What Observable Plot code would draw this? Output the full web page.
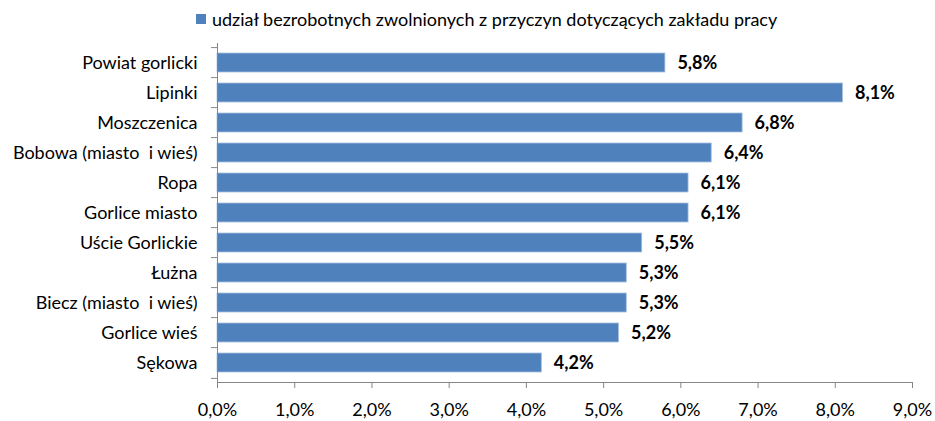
<!DOCTYPE html>
<html>
<head>
<meta charset="utf-8">
<script src="https://cdn.jsdelivr.net/npm/d3@7"></script>
<script src="https://cdn.jsdelivr.net/npm/@observablehq/plot@0.6"></script>
<style>
  html, body { margin: 0; padding: 0; background: #fff; }
  body { width: 935px; height: 421px; overflow: hidden; font-family: Lato, "Open Sans", sans-serif; }
  #legend { height: 30px; display: flex; align-items: center; padding-left: 196px; font-size: 18px; color: #000; box-sizing: border-box; padding-top: 8px; line-height: 1; }
  #legend .sw { width: 10px; height: 10px; background: #4F81BD; margin-right: 6px; flex: none; }
  #chart svg { display: block; }
</style>
</head>
<body>
<div id="legend"><div class="sw"></div><span class="t">udział bezrobotnych zwolnionych z przyczyn dotyczących zakładu pracy</span></div>
<div id="chart"></div>
<script>
const categories = ["Powiat gorlicki", "Lipinki", "Moszczenica", "Bobowa (miasto  i wieś)", "Ropa", "Gorlice miasto", "Uście Gorlickie", "Łużna", "Biecz (miasto  i wieś)", "Gorlice wieś", "Sękowa"];
const values = [5.8, 8.1, 6.8, 6.4, 6.1, 6.1, 5.5, 5.3, 5.3, 5.2, 4.2];
const xTicks = [0, 1, 2, 3, 4, 5, 6, 7, 8, 9];
const seriesName = "udział bezrobotnych zwolnionych z przyczyn dotyczących zakładu pracy";

const data = categories.map((c, i) => ({category: c, value: values[i]}));
const fmt = v => v.toFixed(1).replace(".", ",") + "%";
const axisColor = "#868686";
const halfStep = 15.4;

const chart = Plot.plot({
  width: 935,
  height: 391,
  marginTop: 13,
  marginBottom: 39,
  marginLeft: 217,
  marginRight: 23,
  style: {fontFamily: "Lato, 'Open Sans', sans-serif", fontSize: "18px", color: "#000", background: "#fff", overflow: "visible"},
  x: {domain: [0, 9], ticks: xTicks, tickFormat: fmt},
  y: {domain: categories, paddingInner: 0.36, paddingOuter: 0.18},
  marks: [
    Plot.barX(data, {x: "value", y: "category", fill: "#4F81BD", stroke: "#A7C0DE", strokeWidth: 0.8}),
    Plot.text(data, {x: "value", y: "category", text: d => fmt(d.value), textAnchor: "start", dx: 12, fontWeight: "bold", fontSize: 18}),
    Plot.ruleX([0], {stroke: axisColor}),
    Plot.axisY({tickSize: 0, tickPadding: 20, fontSize: 18, label: null}),
    Plot.axisY({tickSize: 6, tickFormat: () => "", dy: -halfStep, stroke: axisColor, label: null}),
    Plot.axisY({ticks: [categories[categories.length - 1]], tickSize: 6, tickFormat: () => "", dy: halfStep, stroke: axisColor, label: null}),
    Plot.axisX({ticks: xTicks, tickSize: 6, tickPadding: 15, tickFormat: fmt, stroke: axisColor, fontSize: 18, label: null}),
    Plot.frame({anchor: "bottom", stroke: axisColor})
  ]
});
document.getElementById("chart").appendChild(chart);
</script>
</body>
</html>
